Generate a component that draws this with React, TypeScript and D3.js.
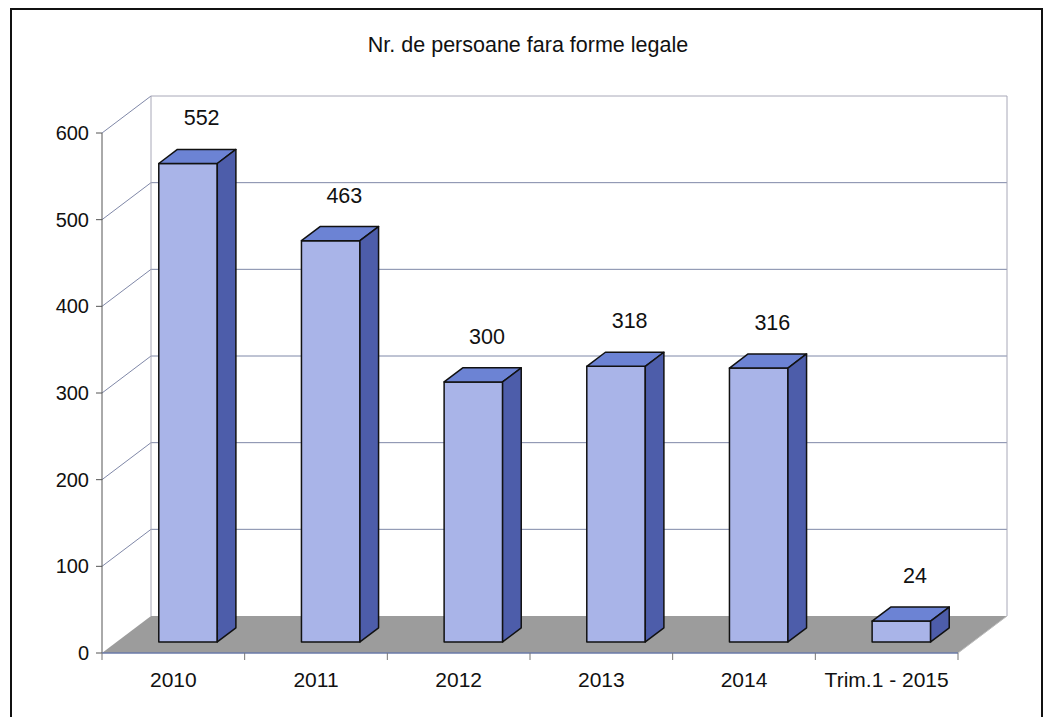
import React from "react";
import * as d3 from "d3";

const title = "Nr. de persoane fara forme legale";
const categories = ["2010", "2011", "2012", "2013", "2014", "Trim.1 - 2015"];
const values = [552, 463, 300, 318, 316, 24];
const yTicks = [0, 100, 200, 300, 400, 500, 600];

const W = 1046;
const H = 717;
const DX = 49;
const DY = -37;
const Z0 = 0.3;
const Z1 = 0.68;

export default function App() {
  const y = d3.scaleLinear().domain([0, 600]).range([653, 133]);
  const x = d3
    .scaleBand<string>()
    .domain(categories)
    .range([102, 958])
    .paddingInner(0.59)
    .paddingOuter(0.295);
  const step = x.step();
  const [x0, x1] = x.range();

  const P = (px: number, v: number, z: number): [number, number] => [
    px + z * DX,
    y(v) + z * DY,
  ];
  const poly = (pts: [number, number][]) => pts.map((p) => p.join(",")).join(" ");

  const font = "'Liberation Sans', Arial, sans-serif";

  return (
    <svg width={W} height={H} style={{ position: "absolute", left: 0, top: 0, background: "#fff" }}>
      <rect x={11} y={9} width={1031} height={720} fill="#fff" stroke="#111" strokeWidth={2} />
      <text x={528} y={52} textAnchor="middle" fontFamily={font} fontSize={21.5} fill="#111">
        {title}
      </text>

      {/* floor */}
      <polygon
        points={poly([P(x0, 0, 0), P(x1, 0, 0), P(x1, 0, 1), P(x0, 0, 1)])}
        fill="#9c9c9c"
      />

      {/* back wall gridlines */}
      {yTicks.slice(1).map((t) => (
        <g key={t}>
          <line
            x1={P(x0, t, 1)[0]}
            y1={P(x0, t, 1)[1]}
            x2={P(x1, t, 1)[0]}
            y2={P(x1, t, 1)[1]}
            stroke={t === 600 ? "#a8a8b8" : "#7f88a8"}
            strokeWidth={1}
          />
          <line
            x1={P(x0, t, 0)[0]}
            y1={P(x0, t, 0)[1]}
            x2={P(x0, t, 1)[0]}
            y2={P(x0, t, 1)[1]}
            stroke="#8088a8"
            strokeWidth={1}
          />
        </g>
      ))}
      {/* back wall vertical edges */}
      <line x1={P(x0, 0, 1)[0]} y1={P(x0, 0, 1)[1]} x2={P(x0, 600, 1)[0]} y2={P(x0, 600, 1)[1]} stroke="#a8a8b8" />
      <line x1={P(x1, 0, 1)[0]} y1={P(x1, 0, 1)[1]} x2={P(x1, 600, 1)[0]} y2={P(x1, 600, 1)[1]} stroke="#a8a8b8" />

      {/* bars */}
      {categories.map((c, i) => {
        const v = values[i];
        const bx0 = x(c)!;
        const bx1 = bx0 + x.bandwidth();
        const front = [P(bx0, 0, Z0), P(bx1, 0, Z0), P(bx1, v, Z0), P(bx0, v, Z0)] as [number, number][];
        const top = [P(bx0, v, Z0), P(bx1, v, Z0), P(bx1, v, Z1), P(bx0, v, Z1)] as [number, number][];
        const side = [P(bx1, 0, Z0), P(bx1, 0, Z1), P(bx1, v, Z1), P(bx1, v, Z0)] as [number, number][];
        const lbl = P(bx0 + x.bandwidth() / 2, v, Z1);
        return (
          <g key={c} stroke="#111" strokeWidth={1.5} strokeLinejoin="round">
            <polygon points={poly(front)} fill="#a9b4e8" />
            <polygon points={poly(top)} fill="#6c83d4" />
            <polygon points={poly(side)} fill="#4d5daa" />
            <text
              x={lbl[0] - 5}
              y={lbl[1] - 24}
              textAnchor="middle"
              fontFamily={font}
              fontSize={21.5}
              fill="#111"
              stroke="none"
            >
              {v}
            </text>
          </g>
        );
      })}

      {/* y axis */}
      <line x1={x0} y1={y(0)} x2={x0} y2={y(600)} stroke="#555" strokeWidth={1} />
      {yTicks.map((t) => (
        <g key={t}>
          <line x1={x0 - 6} y1={y(t)} x2={x0} y2={y(t)} stroke="#555" />
          <text
            x={x0 - 13}
            y={y(t)}
            dy="0.35em"
            textAnchor="end"
            fontFamily={font}
            fontSize={20}
            fill="#111"
          >
            {t}
          </text>
        </g>
      ))}

      {/* x axis */}
      <line x1={x0} y1={y(0)} x2={x1} y2={y(0)} stroke="#6a7aa8" strokeWidth={1.5} />
      <line x1={P(x1, 0, 0)[0]} y1={P(x1, 0, 0)[1]} x2={P(x1, 0, 1)[0]} y2={P(x1, 0, 1)[1]} stroke="#bbb" />
      {d3.range(categories.length + 1).map((i) => (
        <line
          key={i}
          x1={x0 + i * step}
          y1={y(0)}
          x2={x0 + i * step}
          y2={y(0) + 7}
          stroke="#777"
        />
      ))}
      {categories.map((c) => (
        <text
          key={c}
          x={x(c)! + x.bandwidth() / 2}
          y={687}
          textAnchor="middle"
          fontFamily={font}
          fontSize={21}
          fill="#111"
        >
          {c}
        </text>
      ))}
    </svg>
  );
}
